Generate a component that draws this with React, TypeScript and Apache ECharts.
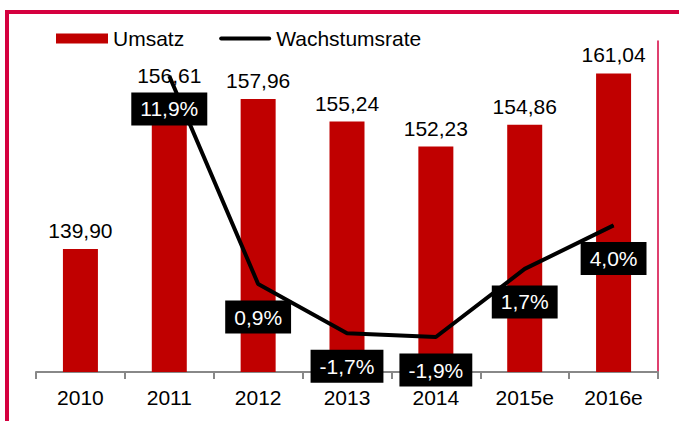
import React, { useEffect, useRef } from "react";
import * as echarts from "echarts";

const categories = ["2010", "2011", "2012", "2013", "2014", "2015e", "2016e"];
const umsatz = [139.9, 156.61, 157.96, 155.24, 152.23, 154.86, 161.04];
const wachstum: (number | null)[] = [null, 11.9, 0.9, -1.7, -1.9, 1.7, 4.0];

const FONT = "'Liberation Sans', Arial, sans-serif";
const FRAME = "#D5003F";
const FS = 21;

export default function App() {
  const ref = useRef<HTMLDivElement>(null);
  useEffect(() => {
    document.body.style.margin = "0";
    const chart = echarts.init(ref.current!, undefined, { renderer: "svg" });
    chart.setOption({
      animation: false,
      backgroundColor: "#fff",
      textStyle: { fontFamily: FONT },
      legend: {
        left: 51,
        top: 23,
        itemGap: 35,
        itemWidth: 52,
        itemHeight: 10,
        textStyle: { fontSize: FS, color: "#000", fontFamily: FONT },
        data: [
          { name: "Umsatz", icon: "rect" },
          {
            name: "Wachstumsrate",
            icon: "path://M2,0H50A2,2 0 0 1 50,4H2A2,2 0 0 1 2,0Z",
            itemStyle: { color: "#000" },
          },
        ],
      },
      grid: { left: 36, right: 21, top: 41, bottom: 49 },
      xAxis: {
        type: "category",
        data: categories,
        axisLine: { onZero: false, lineStyle: { color: "#888", width: 2 } },
        axisTick: { show: true, length: 7, lineStyle: { color: "#888", width: 2 } },
        axisLabel: { fontSize: FS, color: "#000", margin: 15, fontFamily: FONT },
      },
      yAxis: [
        {
          type: "value",
          min: 125.09,
          max: 164.94,
          show: false,
          splitLine: { show: false },
        },
        {
          type: "value",
          min: -3.75,
          max: 13.75,
          position: "right",
          axisLine: { show: true, onZero: false, lineStyle: { color: FRAME, width: 1.5 } },
          axisTick: { show: false },
          axisLabel: { show: false },
          splitLine: { show: false },
        },
      ],
      series: [
        {
          name: "Umsatz",
          type: "bar",
          barWidth: 35,
          itemStyle: { color: "#C00000" },
          data: umsatz.map((v, i) =>
            i === 1 ? { value: v, label: { distance: 24 } } : v
          ),
          label: {
            show: true,
            position: "top",
            distance: 8,
            fontSize: FS,
            color: "#000",
            fontFamily: FONT,
            formatter: (p: any) => p.value.toFixed(2).replace(".", ","),
          },
          z: 1,
        },
        {
          name: "Wachstumsrate",
          type: "line",
          yAxisIndex: 1,
          symbol: "circle",
          symbolSize: 1,
          showSymbol: true,
          lineStyle: { color: "#000", width: 4 },
          itemStyle: { color: "#000" },
          data: wachstum,
          label: {
            show: true,
            position: "bottom",
            distance: 16,
            fontSize: FS,
            color: "#fff",
            backgroundColor: "#000",
            padding: [5, 9, 5, 9],
            lineHeight: 23,
            fontFamily: FONT,
            formatter: (p: any) => p.value.toFixed(1).replace(".", ",") + "%",
          },
          z: 3,
        },
      ],
      graphic: [
        {
          type: "line",
          shape: { x1: 5, y1: 12, x2: 679, y2: 12 },
          style: { stroke: FRAME, lineWidth: 4 },
        },
        {
          type: "line",
          shape: { x1: 7, y1: 10, x2: 7, y2: 421 },
          style: { stroke: FRAME, lineWidth: 4 },
        },
      ],
    });
    return () => chart.dispose();
  }, []);
  return (
    <div
      ref={ref}
      style={{ position: "absolute", left: 0, top: 0, width: 679, height: 421 }}
    />
  );
}
